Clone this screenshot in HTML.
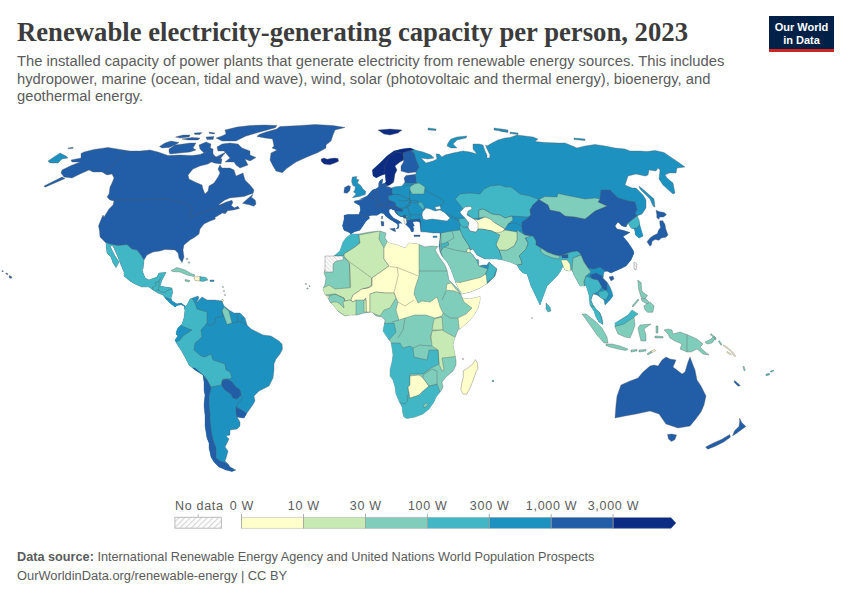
<!DOCTYPE html>
<html><head><meta charset="utf-8">
<style>
html,body{margin:0;padding:0;background:#fff;}
body{width:850px;height:600px;position:relative;overflow:hidden;font-family:"Liberation Sans",sans-serif;}
.t{position:absolute;white-space:nowrap;}
#title{left:17px;top:14px;font-family:"Liberation Serif",serif;font-weight:bold;font-size:26px;color:#333;letter-spacing:0px;}
.sub{left:17px;font-size:14.5px;color:#5b5b5b;}
#logo{position:absolute;left:769px;top:16px;width:65px;height:36px;background:#002147;}
#logo .bar{position:absolute;left:0;bottom:0;width:65px;height:3px;background:#ce261e;}
#logo .l{position:absolute;left:0;width:65px;text-align:center;color:#fff;font-size:11px;font-weight:bold;line-height:12px;}
.leg{font-size:13px;color:#5b5b5b;}
.foot{font-size:12.5px;color:#5b5b5b;left:17px;}
svg{position:absolute;left:0;top:0;}
</style></head><body>
<svg width="850" height="600" viewBox="0 0 850 600">
<defs>
<pattern id="hatch" width="3" height="3" patternUnits="userSpaceOnUse" patternTransform="rotate(-45)"><rect width="3" height="3" fill="#fafafa"/><rect width="1" height="3" fill="#e3e3e3"/></pattern>
<clipPath id="c_afr"><path d="M438,246.5 431,246 425,247 418,244 409,243 405,248 397,245 389,243 387,241 385,238 386,233 380,231 370,232 359,234 351,234 346,238 343,242 341,248 340,251 334,256 330,260 325,270 324,273 326,278 325,284 323,289 325,294 328,298 330,302 334,306 339,312 345,316 350,315 357,315 364,313 372,312 376,316 382,317 385,320 384,326 383,331 387,337 389,340 391,342 392,348 393,355 392,362 390,370 390,376 393,380 395,387 396,394 399,401 402,407 403,414 404,417 407,418.5 415,417 423,414 429,409 434,402 436,397 441,391 443,387 442,382 446,377 453,371 456,365 456,360 455,355 453,345 454,340 458,330 461,328 468,322 474,315 478,308 480,300 480,296.5 470,299 462,298 461,294 458,289 452,283 449,280 447,270 445,265 440,258 435,250Z"/></clipPath>
<clipPath id="c_borneo"><path d="M615,323 620,320 628,315 632,310 638,314 634,317 635,325 633,331 630,338 625,337 618,334 615,327Z"/></clipPath>
<clipPath id="c_eur"><path d="M346,231 344,230.3 342.5,225.8 344,219.8 344,215.3 347.8,214.5 359,214.5 360.5,210 359.8,205.5 354.5,202.5 354.5,201 360.5,200.3 365.8,198 359.4,199.8 367.2,195.9 372.4,190.1 376.2,188.8 378.8,186.8 378.8,182.9 380.1,180.4 382.7,179.1 382.1,184.2 385,183 386,182 385.3,173.9 381.4,175.2 376.2,177.8 373,175.8 372.4,170 380,163 387,156 394,151 402,149 410,148 414,149.5 415,150 423,152 431,155 434,158 428,159 421,158 426,163 433,161 437,159 436,154 439,154 442,157 445,155 453,153 463,151 470,152 477,154 473,149 473,144 479,144 483,145 485,151 487,155 487,158 489.5,158 490,155 487,149 485.5,145 487,146 492,143 498,140 505,138 510,137.5 517,135 525,136 533,137 538,139 535,141.5 545,142.5 558,143 565,143 570,145 577,148 585,146 595,144.5 605,146 615,148 625,149 630,151 640,151 647,151.5 655,150.5 664,152.5 672,158 678,162 685,167 677,168 676,173 669,173 665,175 667,178 673,183 675,193 673,194 663,185 659,179 660,170 658,168 656,171 649,170 648,175 645,176 636,174 628,176 625,185 632,188 636,188 643,195 646,200 646,208 642,214 637,216 639,220 640,226 643,236 639,238 635.5,235 634.5,229 631,228 628,223 626,227 622,226 618,222 615,226 617,229 622,230 630,232.5 623,236.5 628,242.5 633,250 634,253 631,260 626,266 620,269 613,272 611,273 607,271 604,272 603,278 607,282 610,287 612,292 613,296 610,300 605,305 604,300 600,297 597,295 593,294 591,300 593,305 596,309 600,313 602,318 603,324.5 599,322 596,317 594,311 590,305 589,295 586,285 585,286 580,286 574,275 572,270 571,270 569,271 565,270 563,266 560,272 557,276 551,282 547,286 540,305 533,290 531,286 529,280 527,274 523,273 520,270 517,265 510,262 503,260 497,259 490,259 485,259 477,255 473,249 470,250 470,252 473,255 477,261 479,266 483,265 487,265 489,262 497,269 495,276 488,283 483,286 480,288 470,292 462,294 459,289 456,283 453,275 450,267 447,262 442,256 440,252 439,246 440,238 440,233 433,233 426,232 420.9,231.8 420.3,225.9 419.7,221.8 416.2,221.2 412.6,221.8 413.2,223.5 414.4,225.9 412.6,226.5 413.8,228.8 413.2,231.8 411.5,231.8 409.7,228.2 407.4,225.9 406.2,224.7 405.6,223.5 405.6,221.2 404.4,218.2 403.2,217.1 400.3,216.5 397.4,214.7 395,211.8 394.4,210 392.6,210 391.5,208.8 389.1,209.4 389.1,212.4 390.9,215.3 393.8,218.2 397.4,220 400.3,221.8 402,223.5 400.9,222.9 398.5,223.5 399.1,225.9 398.5,228.2 396.2,228.8 397.4,227.6 398,225.9 397.4,224.1 395,222.4 392,220.6 389.1,218.8 385.6,215.9 383.8,213.5 380.8,213 377,215.3 371.8,215.3 368.8,216 369.5,218.3 365.8,221.3 363.5,225 359.8,230.3 354.5,231.8 350.8,234 349.3,232.5Z"/></clipPath>
<clipPath id="c_na"><path d="M81,153.4 84,152 94,149.4 108,147.4 120,149.4 130,151 140,151 150,150 158,152 168,155.5 180,155 192,155.5 200,154.5 206,152 209,147.5 213,149 213,154 216,157 222,154 226,152 220,159 213,161 208,164 200,166 193,169 188,175 189,179 195,182 202,185 203,189 205,194 208,191 209,186 214,183 218,177 220,173 218,169 220,165 222,168 230,168 234,170 236,176 243,173 245,180 250,185 254,190 253,193.5 250,194.3 244,196.5 236.5,197.3 229.8,198 224.5,200.3 218.5,204.8 220,204.8 226.8,201.8 232,200.3 232.8,202.5 231.3,205.5 234.3,207.8 238,206.3 239.5,208.5 233.5,210 227.5,210.8 225.3,213.8 222.3,213 220,214.5 214.8,217.5 215.5,219 209.5,221.3 204,224 200,229 199,234 195,237 190,240 184,245 183,250 184,257 182,262.5 179,258 178,253 175,250 165,249.5 160,251 153,252 147,255 144,260 143,269 142,270 145,278 149,280 157,277 159,273 166,272.5 162,280 160,286 165,287 172,288 172.5,293 171,298 172,301 177,304 181,303 185,306 187,306 185,309 184,306 181,304.5 177,305.5 175,307 170,303 166,299 163,295 158,293 153,290 149,287 142,287 135,284 130,281 124,276 124,272 121,265 118,257 113,246 110,246 115,256 119,262 116,267.5 113,263 111,257 107,253 106,243 104,241 100,237 99.5,231 98.5,226 100,222 103,215 104,217 109,209 113,205 114,201 110,200 107,197 109,194 110,187 112,183 114,178 112,174 107,175 102,172 93,172 89,170 80,174 72,178 64,177 61,173 62,170 70,166 80,162 72,162 71,160 81,158Z"/></clipPath>
<clipPath id="c_ng"><path d="M664,330 668,329 672,330 673,334 680,332 688,335 697,339 703,344 700,347 704,351 709,355 703,354 697,349 691,352 687,352 680,349 682,344 675,341 670,338 668,334Z"/></clipPath>
<clipPath id="c_sa"><path d="M184,308 187,305 190,299 198,296 199,298 196,303 202,297 207,300 215,300 222,301 224,306 229,310 234,313 240,313 245,318 247,325 251,329 259,333 263,335 271,336 279,341 282,344 282.5,349 280,354 276,359 274,364 274,370 273,378 269,386 259,391 254,396 255,401 252,406 247,413 244,418 237,417 240,422 240,426 237,429 230,430 230,435 226,436 229,439 227,443 225,447 228,451 227,455 225,461 228,464 230,467 236,470 232,471.5 226,470 219,467 214,462 211,457 210,452 209,448 209,443 207,438 206,432 205,426 205,415 204,405 205,395 204,390 204,382 203,375 195,370 189,365 185,357 181,350 177,344 175,340 178,336 176,334 177,330 178,328 182,324 184,318 185,310Z"/></clipPath>
</defs>
<g stroke="#555" stroke-opacity="0.7" stroke-width="0.5" stroke-linejoin="round">
<path fill="#225ea8" d="M81,153.4 84,152 94,149.4 108,147.4 120,149.4 130,151 140,151 150,150 158,152 168,155.5 180,155 192,155.5 200,154.5 206,152 209,147.5 213,149 213,154 216,157 222,154 226,152 220,159 213,161 208,164 200,166 193,169 188,175 189,179 195,182 202,185 203,189 205,194 208,191 209,186 214,183 218,177 220,173 218,169 220,165 222,168 230,168 234,170 236,176 243,173 245,180 250,185 254,190 253,193.5 250,194.3 244,196.5 236.5,197.3 229.8,198 224.5,200.3 218.5,204.8 220,204.8 226.8,201.8 232,200.3 232.8,202.5 231.3,205.5 234.3,207.8 238,206.3 239.5,208.5 233.5,210 227.5,210.8 225.3,213.8 222.3,213 220,214.5 214.8,217.5 215.5,219 209.5,221.3 204,224 200,229 199,234 195,237 190,240 184,245 183,250 184,257 182,262.5 179,258 178,253 175,250 165,249.5 160,251 153,252 147,255 144,260 143,269 142,270 145,278 149,280 157,277 159,273 166,272.5 162,280 160,286 165,287 172,288 172.5,293 171,298 172,301 177,304 181,303 185,306 187,306 185,309 184,306 181,304.5 177,305.5 175,307 170,303 166,299 163,295 158,293 153,290 149,287 142,287 135,284 130,281 124,276 124,272 121,265 118,257 113,246 110,246 115,256 119,262 116,267.5 113,263 111,257 107,253 106,243 104,241 100,237 99.5,231 98.5,226 100,222 103,215 104,217 109,209 113,205 114,201 110,200 107,197 109,194 110,187 112,183 114,178 112,174 107,175 102,172 93,172 89,170 80,174 72,178 64,177 61,173 62,170 70,166 80,162 72,162 71,160 81,158Z"/>
<path fill="#225ea8" d="M62,177 44,186 45,187.2 65,178.5Z"/>
<path fill="#225ea8" d="M68,148 73,147.3 73.2,148.3 68.3,148.8Z"/>
<path fill="#225ea8" d="M169,149 175,145 183,144 190,143 196,143 193,148 196,150 190,152 180,153 170,154 169,152Z"/>
<path fill="#225ea8" d="M159.5,146.5 165,143 171,141 179,142.5 175,145 169,147.5 162,148Z"/>
<path fill="#225ea8" d="M225,130 237,127 250,125.5 265,125 277,125.5 275.3,127.7 265.4,130.5 255.5,133.3 245.6,136.2 240,139 236,141 222,141 216,138 222,136 226,134Z"/>
<path fill="#225ea8" d="M217,147 222,144 230,143 238,144 242,148 250,151 250,155 256,157.5 250,161 245,159 248,165 240,168 236,165 234,162 225,162 230,158 224,151 218,151Z"/>
<path fill="#225ea8" d="M199,145 206,142 211,144 210,150 204,153 200,149Z"/>
<path fill="#225ea8" d="M175.5,137 183,135 190,135 189,137 180,138Z"/>
<path fill="#225ea8" d="M182,139 192,137.5 200,138 198,140 188,140Z"/>
<path fill="#225ea8" d="M194,133 202,132.5 200,134.5 195,134.5Z"/>
<path fill="#225ea8" d="M206,137 214,136.5 213,139.5 207,139.5Z"/>
<path fill="#225ea8" d="M209,132 215,133 214,134 209.5,133.5Z"/>
<path fill="#225ea8" d="M208,160 216,157 222,159 221,164 214,163Z"/>
<path fill="#225ea8" d="M259,134.5 257,136.5 265,138 272.5,139 274,146 272,148 277,150 271,153 270,160 273,166 276,171 282.4,172.8 286.6,168.6 296,162 306.4,157.3 318,152.5 326,148 326,145 331,141 333,135 335,130 345,127.5 333,125.5 315,124.5 300,125.5 280,126.5 276.7,129 266,132Z"/>
<path fill="#0c2c84" d="M321,159.2 323.8,158.1 327.4,159.2 330.2,158.5 334.8,158.1 338,158.5 338.6,161.3 334.8,163 329.8,164.8 324.2,164.1 321.4,161.6Z"/>
<path fill="#225ea8" d="M242.5,203.3 248.5,198 253,194.3 251.5,197.3 255.3,200.3 256,204 253.8,206.3 249.3,204.8 245.5,204Z"/>
<path fill="#7fcdbb" d="M171,270.5 177,267.5 185,270 191,273.5 195,275 194,276.5 187,275 180,272 172.5,271.5Z"/>
<path fill="#7fcdbb" d="M185,279.5 190,280.5 189,282 185,281Z"/>
<path fill="#ffffcc" d="M194,277 200,276.5 200,281 195,280.5Z"/>
<path fill="#41b6c4" d="M200,276.5 206,277.5 208,280 203,281.5 200,281Z"/>
<path fill="#1d91c0" d="M210,280 214,280 214,281.5 210,281.5Z"/>
<path fill="#225ea8" d="M9.5,275.5 12,277 11,278.5 9,277.5Z"/>
<path fill="#225ea8" d="M6,273 8,273.8 7.5,274.8 5.8,274Z"/>
<path fill="#225ea8" d="M2,270.5 3.5,271 3,271.8 1.8,271.3Z"/>
<path fill="#1d91c0" d="M48,161 54,157 60,153 66,156 68,158 62,159 58,163 50,163Z"/>
<path fill="#1d91c0" d="M184,308 187,305 190,299 198,296 199,298 196,303 202,297 207,300 215,300 222,301 224,306 229,310 234,313 240,313 245,318 247,325 251,329 259,333 263,335 271,336 279,341 282,344 282.5,349 280,354 276,359 274,364 274,370 273,378 269,386 259,391 254,396 255,401 252,406 247,413 244,418 237,417 240,422 240,426 237,429 230,430 230,435 226,436 229,439 227,443 225,447 228,451 227,455 225,461 228,464 230,467 236,470 232,471.5 226,470 219,467 214,462 211,457 210,452 209,448 209,443 207,438 206,432 205,426 205,415 204,405 205,395 204,390 204,382 203,375 195,370 189,365 185,357 181,350 177,344 175,340 178,336 176,334 177,330 178,328 182,324 184,318 185,310Z"/>
<path fill="#1d91c0" d="M346,231 344,230.3 342.5,225.8 344,219.8 344,215.3 347.8,214.5 359,214.5 360.5,210 359.8,205.5 354.5,202.5 354.5,201 360.5,200.3 365.8,198 359.4,199.8 367.2,195.9 372.4,190.1 376.2,188.8 378.8,186.8 378.8,182.9 380.1,180.4 382.7,179.1 382.1,184.2 385,183 386,182 385.3,173.9 381.4,175.2 376.2,177.8 373,175.8 372.4,170 380,163 387,156 394,151 402,149 410,148 414,149.5 415,150 423,152 431,155 434,158 428,159 421,158 426,163 433,161 437,159 436,154 439,154 442,157 445,155 453,153 463,151 470,152 477,154 473,149 473,144 479,144 483,145 485,151 487,155 487,158 489.5,158 490,155 487,149 485.5,145 487,146 492,143 498,140 505,138 510,137.5 517,135 525,136 533,137 538,139 535,141.5 545,142.5 558,143 565,143 570,145 577,148 585,146 595,144.5 605,146 615,148 625,149 630,151 640,151 647,151.5 655,150.5 664,152.5 672,158 678,162 685,167 677,168 676,173 669,173 665,175 667,178 673,183 675,193 673,194 663,185 659,179 660,170 658,168 656,171 649,170 648,175 645,176 636,174 628,176 625,185 632,188 636,188 643,195 646,200 646,208 642,214 637,216 639,220 640,226 643,236 639,238 635.5,235 634.5,229 631,228 628,223 626,227 622,226 618,222 615,226 617,229 622,230 630,232.5 623,236.5 628,242.5 633,250 634,253 631,260 626,266 620,269 613,272 611,273 607,271 604,272 603,278 607,282 610,287 612,292 613,296 610,300 605,305 604,300 600,297 597,295 593,294 591,300 593,305 596,309 600,313 602,318 603,324.5 599,322 596,317 594,311 590,305 589,295 586,285 585,286 580,286 574,275 572,270 571,270 569,271 565,270 563,266 560,272 557,276 551,282 547,286 540,305 533,290 531,286 529,280 527,274 523,273 520,270 517,265 510,262 503,260 497,259 490,259 485,259 477,255 473,249 470,250 470,252 473,255 477,261 479,266 483,265 487,265 489,262 497,269 495,276 488,283 483,286 480,288 470,292 462,294 459,289 456,283 453,275 450,267 447,262 442,256 440,252 439,246 440,238 440,233 433,233 426,232 420.9,231.8 420.3,225.9 419.7,221.8 416.2,221.2 412.6,221.8 413.2,223.5 414.4,225.9 412.6,226.5 413.8,228.8 413.2,231.8 411.5,231.8 409.7,228.2 407.4,225.9 406.2,224.7 405.6,223.5 405.6,221.2 404.4,218.2 403.2,217.1 400.3,216.5 397.4,214.7 395,211.8 394.4,210 392.6,210 391.5,208.8 389.1,209.4 389.1,212.4 390.9,215.3 393.8,218.2 397.4,220 400.3,221.8 402,223.5 400.9,222.9 398.5,223.5 399.1,225.9 398.5,228.2 396.2,228.8 397.4,227.6 398,225.9 397.4,224.1 395,222.4 392,220.6 389.1,218.8 385.6,215.9 383.8,213.5 380.8,213 377,215.3 371.8,215.3 368.8,216 369.5,218.3 365.8,221.3 363.5,225 359.8,230.3 354.5,231.8 350.8,234 349.3,232.5Z"/>
<path fill="#1d91c0" d="M352.3,177.1 356.8,176.5 356.2,179.1 358.8,179.7 357.5,182.9 360.7,185.5 362.7,188.8 365.9,191.4 365.2,194.6 359.4,196.5 352.3,197.8 356.2,193.9 353.6,192 354.9,189.4 355.5,186.8 352.9,185.5 351.6,181.6Z"/>
<path fill="#225ea8" d="M343.9,192.7 344.5,187.5 348.4,185.5 350.5,186.5 349.7,190.7 347.1,193.3Z"/>
<path fill="#225ea8" d="M389.7,228.8 395,228.2 395.6,231.8 392.6,230.6Z"/>
<path fill="#225ea8" d="M380.9,221.2 383.8,221.8 383.8,225.9 381.5,225.9Z"/>
<path fill="#225ea8" d="M381.5,216.5 382.6,215.9 382.6,218.8 381.5,218.8Z"/>
<path fill="#225ea8" d="M414,235 420,235 420,236.5 414,236.5Z"/>
<path fill="#1d91c0" d="M433,236 437,236 437,237.5 433,237.5Z"/>
<path fill="#1d91c0" d="M448,143 451,139 457,137 467,136 466,138 457,140 453,144 457,148 451,148 447,146Z"/>
<path fill="#0c2c84" d="M378,130 390,129 402,130 398,133 390,135 384,134Z"/>
<path fill="#1d91c0" d="M500,129 508,131 508,132.5 500,131Z"/>
<path fill="#1d91c0" d="M510,132 518,133 518,134.5 510,133.5Z"/>
<path fill="#1d91c0" d="M574,138 585,139 585,140.5 574,139.5Z"/>
<path fill="#1d91c0" d="M428,128 436,129 436,130.5 428,130Z"/>
<path fill="#1d91c0" d="M494,128 508,130 507,132 494,130Z"/>
<path fill="#1d91c0" d="M639,186 645,191 654,199 655,207 653,206 650,199 640,189Z"/>
<path fill="#225ea8" d="M656,210.3 659.8,211.8 664.3,212.5 666.5,214.8 663.5,217 659.8,217 659,219.3 656.8,217.8 656.8,214.8Z"/>
<path fill="#225ea8" d="M659.8,220.8 662.8,220.8 665,224.5 665.8,229 668,235 665.8,237.3 661.3,238 659,240.3 655.3,239.5 652.3,241 651.5,244.8 650,246.3 647,241.8 650,238 653,235.8 657.5,233.5 658.3,230.5 660.5,227.5 659.8,223.8Z"/>
<path fill="#225ea8" d="M609,277 613,276 614,279 611,281Z"/>
<path fill="#41b6c4" d="M546,303 550,307 551,311 548,312 546,309Z"/>
<path fill="#7fcdbb" d="M637.8,280 641.2,282.6 641.5,290 643,292.5 647.6,295.5 645,299 641,297 638.6,289Z"/>
<path fill="#7fcdbb" d="M641,298 646,299 649,302 647,304 642,301Z"/>
<path fill="#7fcdbb" d="M643.8,305.9 650.2,302 654.1,305.9 652.8,312.3 647.6,312.3 645,309.8Z"/>
<path fill="#7fcdbb" d="M632,306 638,299 639,300 633,307Z"/>
<path fill="#7fcdbb" d="M582,314 586,314 595,321 602,328 607,337 608,343 604,343 597,335 590,325 585,318Z"/>
<path fill="#7fcdbb" d="M606,344 612,344 620,346 628,349 626,350.5 618,349 610,347 606,345.5Z"/>
<path fill="#7fcdbb" d="M631,350 637,349.5 637,351 631,352Z"/>
<path fill="#7fcdbb" d="M639,350 646,349.5 646,351 639,352Z"/>
<path fill="#7fcdbb" d="M647,354 651,351 652,352.5 648,355Z"/>
<path fill="#ffffcc" d="M651,351 655,349.5 656,350.5 652,352.5Z"/>
<path fill="#7fcdbb" d="M615,323 620,320 628,315 632,310 638,314 634,317 635,325 633,331 630,338 625,337 618,334 615,327Z"/>
<path fill="#7fcdbb" d="M640,325 651,324 644,329 646,335 646,341 641,341 639,333 638,328Z"/>
<path fill="#7fcdbb" d="M655,336 663,336.5 663,338 655,338Z"/>
<path fill="#7fcdbb" d="M656,326 658,326 658,333 656,333Z"/>
<path fill="#7fcdbb" d="M664,330 668,329 672,330 673,334 680,332 688,335 697,339 703,344 700,347 704,351 709,355 703,354 697,349 691,352 687,352 680,349 682,344 675,341 670,338 668,334Z"/>
<path fill="#7fcdbb" d="M705,342 711,339 714,336 716,338 712,343 707,344Z"/>
<path fill="#225ea8" d="M615,418 616,405 617,396 621,385 630,381 638,378 643,372 650,366 654,365 658,366 662,360 666,357 670,359 676,360 673,367 677,370 682,374 685,372 688,362 690,357 693,365 695,370 697,380 701,386 706,396 704,405 701,412 695,420 690,426 678,428 666,424 659,414 650,411 636,414 625,416Z"/>
<path fill="#225ea8" d="M667.5,434.5 672,434 676.5,435 675,439.5 671.5,441.5 668.5,439Z"/>
<path fill="#225ea8" d="M739.6,418.1 741.7,422.4 745.9,426.6 741.7,429.4 736,433.7 732.5,435.8 734.6,430.8 738.9,426.6 739.6,422.4Z"/>
<path fill="#225ea8" d="M734.6,380.6 740.3,385.6 738.2,386.3 733.9,382Z"/>
<path fill="#225ea8" d="M729.7,434.4 730.4,437.2 723.3,442.2 714.8,446.4 707.7,449.2 705.6,447.1 713.4,442.9 721.9,439.3Z"/>
<path fill="#ffffcc" d="M475.4,359.6 477.5,363.3 477.9,368.3 475.8,372.5 473.3,380 470,388.3 466.7,394.2 463.3,394.2 460.8,390 461.7,383.3 463.3,377.5 463.3,370.8 467.5,368.3 472.5,364.2Z"/>
<path fill="#41b6c4" d="M476.5,259.5 478.5,259.5 479,263.5 477,264Z"/>
<path fill="#7fcdbb" d="M438,246.5 431,246 425,247 418,244 409,243 405,248 397,245 389,243 387,241 385,238 386,233 380,231 370,232 359,234 351,234 346,238 343,242 341,248 340,251 334,256 330,260 325,270 324,273 326,278 325,284 323,289 325,294 328,298 330,302 334,306 339,312 345,316 350,315 357,315 364,313 372,312 376,316 382,317 385,320 384,326 383,331 387,337 389,340 391,342 392,348 393,355 392,362 390,370 390,376 393,380 395,387 396,394 399,401 402,407 403,414 404,417 407,418.5 415,417 423,414 429,409 434,402 436,397 441,391 443,387 442,382 446,377 453,371 456,365 456,360 455,355 453,345 454,340 458,330 461,328 468,322 474,315 478,308 480,300 480,296.5 470,299 462,298 461,294 458,289 452,283 449,280 447,270 445,265 440,258 435,250Z"/>
<path fill="#7fcdbb" d="M718.27,341.376 720.97,345.176 722.03,344.424 719.33,340.624Z"/>
<path fill="#7fcdbb" d="M710.236,334.412 713.562,337.333 715.462,339.833 716.338,339.167 714.438,336.667 710.964,333.588Z"/>
<path fill="#ffffcc" d="M723.21,345.707 727.671,348.876 731.597,352.296 734.897,356.796 735.703,356.204 732.403,351.704 728.329,348.124 723.79,344.893Z"/>
<path fill="#ffffcc" d="M726.735,352.424 730.735,354.924 731.265,354.076 727.265,351.576Z"/>
<path fill="#7fcdbb" d="M742.924,366.669 744.124,370.769 745.276,370.431 744.076,366.331Z"/>
<path fill="#41b6c4" d="M766.205,375.773 769.605,374.873 769.195,373.327 765.795,374.227Z"/>
<path fill="#41b6c4" d="M770.81,372.308 773.71,371.108 773.29,370.092 770.39,371.292Z"/>
<path fill="#7fcdbb" d="M186.2,259 186.6,258.2 187.4,258.2 187.8,259 187.4,259.8 186.6,259.8Z"/>
<path fill="#7fcdbb" d="M188.3,262.5 188.65,261.8 189.35,261.8 189.7,262.5 189.35,263.2 188.65,263.2Z"/>
<path fill="#7fcdbb" d="M222.5,287 222.75,286.4 223.25,286.4 223.5,287 223.25,287.6 222.75,287.6Z"/>
<path fill="#7fcdbb" d="M223.5,291 223.75,290.4 224.25,290.4 224.5,291 224.25,291.6 223.75,291.6Z"/>
<path fill="#7fcdbb" d="M224.5,295 224.75,294.4 225.25,294.4 225.5,295 225.25,295.6 224.75,295.6Z"/>
<path fill="#ffffcc" d="M221.3,300.5 221.9,299.5 223.1,299.5 223.7,300.5 223.1,301.5 221.9,301.5Z"/>
<path fill="#7fcdbb" d="M305.3,284 305.65,283.4 306.35,283.4 306.7,284 306.35,284.6 305.65,284.6Z"/>
<path fill="#7fcdbb" d="M308.9,286 309.2,285.4 309.8,285.4 310.1,286 309.8,286.6 309.2,286.6Z"/>
<path fill="#7fcdbb" d="M306.7,288.5 307.1,287.9 307.9,287.9 308.3,288.5 307.9,289.1 307.1,289.1Z"/>
<path fill="#c7e9b4" d="M462.3,359 462.65,358.4 463.35,358.4 463.7,359 463.35,359.6 462.65,359.6Z"/>
<path fill="#41b6c4" d="M492.1,381 492.55,380.1 493.45,380.1 493.9,381 493.45,381.9 492.55,381.9Z"/>
<path fill="#7fcdbb" d="M531.6,318 531.8,317.4 532.2,317.4 532.4,318 532.2,318.6 531.8,318.6Z"/>
<g clip-path="url(#c_afr)">
<path fill="#41b6c4" d="M335,256 343,256 344,254 355,247 360,243 359,235 350,230 330,250Z"/>
<path fill="#c7e9b4" d="M359,235 380,231 379,239 384,248 384,259 389,266 372,278 372,285 368,288 362,289 353,295 351,300 345,301 344,298 335,294 325,295 318,295 318,285 323,288 329,285 335,289 350,287.7 349.5,263.3 344,256 344,254 355,247 360,243Z"/>
<path fill="#ffffcc" d="M384,248 388,240 419,243 419,276 415,288 414,294 418,303 422,301 430,302 437,297 439,303 440,307 443,313 442,316 435,318 426,315 415,315 405,318 399,320 396,310 398,302 396,298 394,293 385,293 376,292 370,294 370,312 366,312 366,298 364,300 356,300 353,302 351,300 353,295 362,289 368,288 372,285 372,278 389,266 384,259Z"/>
<path fill="#ffffcc" d="M447,284 451,283 460,294 455,291 446,290Z"/>
<path fill="#ffffcc" d="M462,297 485,294 485,310 460,335 458,318 466,314 472,308 464,302Z"/>
<path fill="#ffffcc" d="M430.5,335 433.5,335.5 433,339 431,339.5Z"/>
<path fill="#c7e9b4" d="M434,319 442,317 443,330 432,330Z"/>
<path fill="#c7e9b4" d="M432,331 442,330 460,340 460,356 442,358 444,370 442,371 439,364 438,350 432,346 431,337Z"/>
<path fill="#41b6c4" d="M375,324 394,323 396,332 389,340 375,335Z"/>
<path fill="#41b6c4" d="M380,343 400,343 403,348 410,346 413,348 414,357 427,360 429,350 438,350 439,364 431,368 423,374 410,374 410,385 408,387 409,398 410,398 419,395 423,391 429,386 437,384 440,392 445,395 440,425 380,425Z"/>
<path fill="#ffffcc" d="M410,376 419,375 423,378 429,386 423,391 419,395 410,398 408,387 410,385Z"/>
<path fill="#7fcdbb" d="M423,375 432,369 437,371 437,384 429,386 423,378Z"/>
<path fill="#7fcdbb" d="M423,405.6 426.5,402.6 428.2,404.4 424.7,408Z"/>
<path fill="#c7e9b4" d="M370,294 376,292 385,293 394,293 396,298 390,308 384,310 380,316 370,312Z"/>
<path fill="#c7e9b4" d="M364,300 366,300 366.5,312 364,312Z"/>
<path fill="#ffffcc" d="M324,295 329,296 329,298 325,299Z"/>
<path fill="#c7e9b4" d="M333,302 337,302 340,304 344,308 343,302 345,301 350,300 353,302 356,300 356,315 345,316 335,309 328,304Z"/>
<path fill="none" d="M399.4,401.5 401.8,403.2 405.3,403.8 407.6,400.9 407,395"/>
<path fill="none" d="M419,271 447,271"/>
<path fill="none" d="M344.2,258 371.8,278.1 371.8,286.6 363.3,288.7"/>
<path fill="none" d="M349.5,263.3 350.6,287.7"/>
<path fill="none" d="M389.8,266.5 397.2,267.5 418.4,276"/>
<path fill="none" d="M397.2,267.5 398.3,275 395,288.7 394,293"/>
<path fill="none" d="M398,302 405,306 414,300"/>
<path fill="none" d="M446,291 442,300"/>
<path fill="none" d="M443,313 450,318 458,318"/>
<path fill="none" d="M405,318 403,330 398,338"/>
<path fill="none" d="M392,322 399,320"/>
<path fill="none" d="M329,296 335,294 344,298 345,301"/>
<path fill="none" d="M413,348 420,345 432,346"/>
</g>
<g clip-path="url(#c_borneo)">
<path fill="#41b6c4" d="M610,323 620,320 628,315 632,305 645,314 634,317 624,324 617,326 610,328Z"/>
</g>
<g clip-path="url(#c_eur)">
<path fill="#225ea8" d="M330,170 386,176 392,186 392,194 400,195 396,203 396,206 398.5,207.6 404.4,210.6 403,213 406,218 410,220 419.7,218.8 420.5,221 421,235 330,240Z"/>
<path fill="#1d91c0" d="M388,196 395,194 400,195 404,197 410,199 410,206 406.8,205.9 404.4,208.8 398.5,207.6 395.6,205.9 395.6,203.5 394,202 389,200Z"/>
<path fill="#1d91c0" d="M395.6,211.2 402.6,211.2 402,208.2 408,207.6 409.1,211.8 410.3,214.7 410.3,217.6 410.9,220 406.8,220.6 406.2,217.6 405.6,215.9 405,215.3 403.8,215.3 402.6,217.1 399.7,215.9 397.4,213.5Z"/>
<path fill="#225ea8" d="M402.6,216.5 405,215.3 405.6,217.6 403.8,218.2Z"/>
<path fill="#41b6c4" d="M405.6,215.9 408,215.9 408,217.6 406.2,217.6Z"/>
<path fill="#0c2c84" d="M365,175 372,165 385,152 400,146 415,146 416,149 410,151 403,153 404,160 400,165 397,172 395,178 392,184 388,186 385,183 384,178 378,180 370,180Z"/>
<path fill="#225ea8" d="M403,153 410,150.5 414,153 416,160 419,167 416,172 408,174 400,172 401,163 404,158Z"/>
<path fill="#225ea8" d="M398,174 415,174 416,178 416,183 405,183 398,183Z"/>
<path fill="#7fcdbb" d="M410,187 414,184 419,183 425,187 424,194 412,194 410,190Z"/>
<path fill="#41b6c4" d="M417.8,202.5 421.6,202.1 423.9,205.6 424.6,208.6 422.3,209.4 420,206.3 418.5,204.8Z"/>
<path fill="#41b6c4" d="M455,199 460,194 470,193 480,194 484,189 490,186 500,185 505,187 511,187 520,194 530,196 539,199.5 533,205 530,210 531,215 528,217 512,216 505,218 500,215 492,214 483,209 479,210 479,218 474,219 472,218 465,212 460,205Z"/>
<path fill="#7fcdbb" d="M479,210 483,209 492,214 500,215 505,218 512,216 513,220 508,224 505,229 495,223 485,217 479,218Z"/>
<path fill="#ffffcc" d="M474,219 478,220 485,217 490,219 495,223 505,229 500,235 492,231 482,229 478,229 476,224Z"/>
<path fill="#225ea8" d="M539,199.5 548,205 550,210 560,212 565,216 575,217 585,219 595,211 607,206 598,202 600,199 601,190 610,190 618,198 628,201 635,202 637,210 635,213 637,216 628,223 626,227 622,226 618,222 615,226 617,229 622,230 632,231 623,236.5 630,240 636,252 637,253 634,262 628,268 620,272 612,275 607,272 604,270 600,267 594,269 588,268 584,262 581,255 577,251 571,252 565,254 560,256 555,255 547,252 541,248 536,245 536,241 533,236 525,236 522,230 522,222 528,218 531,215 530,210 533,205Z"/>
<path fill="#7fcdbb" d="M539,199.5 545,196.5 557,197 558,193.5 565,195 575,197 585,199 595,198 600,199 598,202 607,206 595,211 585,219 575,217 565,216 560,212 550,210 548,205Z"/>
<path fill="#1d91c0" d="M631,229 637,228 641,223 646,230 646,240 638,241 633,235Z"/>
<path fill="#41b6c4" d="M628,223 637,216 642,218 641,223 637,228 631,229 626,226Z"/>
<path fill="#41b6c4" d="M525,236 533,236 536,241 536,245 541,248 547,252 555,255 560,256 565,254 571,252 577,251 580,253 581,255 573,258 574,265 572,272 565,285 545,315 525,290 510,268 517,265 522,264 521,260 519,256 526,249 528,243Z"/>
<path fill="#7fcdbb" d="M541,248 547,252 555,255 560,256 559,259 553,258 545,255 541,252Z"/>
<path fill="#225ea8" d="M562,255 568,254.5 568,258 562,258Z"/>
<path fill="#ffffcc" d="M561,260 567,260 570,264 571,272 569,274 565,272 563,266Z"/>
<path fill="#7fcdbb" d="M517,230 525,235 531,236 525,238 528,243 526,249 519,256 521,260 522,264 517,265 510,270 500,268 499,262 501,256 499,250 507,250 514,246 517,240Z"/>
<path fill="#c7e9b4" d="M495,233 501,232 505,230 517,232 517,240 514,246 507,250 499,250 496,245Z"/>
<path fill="#41b6c4" d="M460,221 463,227 468,227 470,231 476,232 478,229 482,229 492,231 500,235 496,245 499,250 501,256 503,262 495,265 485,259 477,255 473,249 470,250 469,246 463,237 460,231 460,227Z"/>
<path fill="#41b6c4" d="M458,219 465,218 469,223 468,227 463,227 460,224Z"/>
<path fill="#7fcdbb" d="M441,233 452,231 460,230 463,237 469,246 470,250 473,255 477,261 479,266 488,269 485,275 480,278 460,283 455,290 440,250 440,240Z"/>
<path fill="#41b6c4" d="M441,244 448,242 449,245 444,247 441,251Z"/>
<path fill="#ffffcc" d="M467,249 470,249 470,252.5 467,252.5Z"/>
<path fill="#41b6c4" d="M489,262 497,269 495,273 494,277 489,281 485,284 485,275 488,269Z"/>
<path fill="#ffffcc" d="M455,282 460,282.5 480,277.5 486,274 488,290 462,300 455,295Z"/>
<path fill="#7fcdbb" d="M573,258 581,255 584,262 588,268 591,272 586,276 584,282 585,286 588,295 585,300 574,280 572,270Z"/>
<path fill="#225ea8" d="M590,275 596,273 602,276 603,279 607,283 607,291 602,288 598,281 593,280Z"/>
<path fill="#41b6c4" d="M586,276 593,279 598,280 602,287 598,292 593,294 591,300 593,305 596,309 600,313 580,320 585,286 584,282Z"/>
<path fill="#41b6c4" d="M598,292 606,290 609,294 606,300 600,298Z"/>
<path fill="#41b6c4" d="M589,306 596,307 600,313 604,326 595,326Z"/>
<path fill="none" d="M452,231 454,238 447,242"/>
<path fill="none" d="M444,247 455,250 467,252"/>
<path fill="none" d="M440,233 441,236 441,244"/>
<path fill="none" d="M425,190 430,193 440,198 444,201 443,204 440,206"/>
<path fill="none" d="M409.6,190 409.6,198.5 410,203 417.4,202.4"/>
<path fill="none" d="M410.3,214.7 422,214.7"/>
<path fill="none" d="M404,186 414,184.5"/>
<path fill="none" d="M445,213 452,216 458,219"/>
<path fill="none" d="M450,217 455,219 460,221"/>
<path fill="none" d="M508,224 515,223 522,226"/>
<path fill="none" d="M384,173 385,165 389,157 396,152 402,153"/>
<path fill="none" d="M359,214.5 364,216.5 368.8,216"/>
<path fill="none" d="M345,216 349,219 348,225 347,231"/>
<path fill="none" d="M369,196 375,199 378,200 378,205 376,207 377.4,208.8 380.9,205.9 386.8,206.5 390.3,206.5 392.6,207.6 397.4,207"/>
<path fill="none" d="M378,205 383,204 388,203.5 389,200"/>
<path fill="none" d="M372,190 377,190 377,198"/>
<path fill="none" d="M378.8,186.5 383,186.5"/>
<path fill="none" d="M398.6,200.2 403.2,201 407.8,200.2 409.6,198.5"/>
<path fill="none" d="M409.3,201.8 407.8,205.6 406.3,207.1"/>
<path fill="none" d="M409.3,201 414.7,200.2 418.5,201.8"/>
</g>
<g clip-path="url(#c_na)">
<path fill="#41b6c4" d="M95,242 106,242.5 110,244 118,245.5 127,244.5 132,249 137,250 141,255 144,260 150,262 168,266 180,290 178,302 176,310 130,300 95,260Z"/>
<path fill="#1d91c0" d="M165,297 172,300 180,296 195,300 190,315 170,310 162,300Z"/>
<path fill="none" d="M128,151 105,172"/>
<path fill="none" d="M153,290 152.3,287.3 156.3,285.3 155,282.7 159,281.3 161,277.3"/>
<path fill="none" d="M159,281.3 159,286 158.3,290 161.7,292 164.3,292.7 168.3,290 172.3,288.7"/>
<path fill="none" d="M155.7,290.7 158.3,290"/>
<path fill="none" d="M114,200 170,199.5 180,202 188,204 192,210 189,218 196,215 208,210 217,208 222,205 224.5,207 224,210 226,213"/>
</g>
<g clip-path="url(#c_ng)">
<path fill="none" d="M687,334 687,353"/>
</g>
<g clip-path="url(#c_sa)">
<path fill="#41b6c4" d="M190,295 195,303 197,309 207,312 207,323 201,330 202,337 195,343 194,350 201,356 205,357 211,354 213,360 225,364 226,370 230,372 232,378 229,379 223,379 221,385 211,387 207,380 203,375 170,370 170,290Z"/>
<path fill="#1d91c0" d="M170,322 180,325 189,329 192,330 189,332 183,336 180,340 170,345Z"/>
<path fill="#225ea8" d="M180,368 195,368 203,375 207,380 211,388 209,396 209,405 210,415 210,420 211,430 213,440 216,448 216,458 220,461 228,464 240,476 180,480Z"/>
<path fill="#225ea8" d="M222,381 227,379 232,382 235,386 240,390 241,395 237,399 233,398 231,394 225,390 222,386Z"/>
<path fill="#225ea8" d="M236,407 243,411 247,414 252,418 244,421 237,417 236,412Z"/>
<path fill="#7fcdbb" d="M224,307 229,311 230,315 232,323 227,324.5 225,319 222,311Z"/>
<path fill="none" d="M207,323 210,326 215,323 215,318 223,316 222,311"/>
<path fill="none" d="M237,314 238,322"/>
<path fill="none" d="M243,317 241,322"/>
<path fill="none" d="M232,323 238,322 241,322 247,325"/>
<path fill="none" d="M241,395 243,397 237,405 236,407"/>
</g>
<path fill="#fff" d="M423,219 422,215 422.5,212 424.4,210 426,208 430,209 435,211 440,210 445,213 450,218 447,221 440,220 432,219 426,220Z"/>
<path fill="#fff" d="M435,207 440,206 441,209 436,209.5Z"/>
<path fill="#fff" d="M460,212 465,207 471,206.5 472,209 468,211 467,215 472,218 475,220 478,223 478,229 476,232 470,231 468,227 469,223 465,218 461,214Z"/>
<path fill="#fff" d="M386,186.5 389.8,185 393.7,182.3 395,174 397,170 395,166 400,162 404,160 403,163 401,166 401,171 408,173 416,172 416,174 414,174.5 406,175.5 404,178 405,182 402,186 395,186.8 391.1,188.1 388.5,186.8Z"/>
<path fill="url(#hatch)" d="M634,262 637,264 636,270 634,269Z"/>
<path fill="url(#hatch)" d="M403.8,218.2 406.2,218.2 406.8,222.4 405.6,224.7 404.4,223.5Z"/>
<path fill="url(#hatch)" d="M325,256 343,256 343,260 336,261 333,264 333,272 325,272Z"/>
</g></svg><svg width="850" height="600" style="position:absolute;left:0;top:0">
<defs><pattern id="hatch2" width="4" height="4" patternUnits="userSpaceOnUse" patternTransform="rotate(45)"><rect width="4" height="4" fill="#fff"/><rect width="1.2" height="4" fill="#d6d6d6"/></pattern></defs>
<rect x="174.9" y="517.3" width="46.5" height="10.9" fill="url(#hatch2)" stroke="#bbb" stroke-width="1"/>
<line x1="198.2" y1="514" x2="198.2" y2="517" stroke="#bbb" stroke-width="1"/>
<rect x="241.5" y="517.4" width="62" height="11" fill="#ffffcc"/>
<rect x="303.5" y="517.4" width="62" height="11" fill="#c7e9b4"/>
<rect x="365.5" y="517.4" width="61.9" height="11" fill="#7fcdbb"/>
<rect x="427.4" y="517.4" width="61.9" height="11" fill="#41b6c4"/>
<rect x="489.3" y="517.4" width="61.9" height="11" fill="#1d91c0"/>
<rect x="551.2" y="517.4" width="61.9" height="11" fill="#225ea8"/>
<path d="M613.1,517.4 H671 L676,522.9 L671,528.4 H613.1 Z" fill="#0c2c84"/>
<path d="M241.5,517.4 H671 M241.5,528.4 H671" stroke="#999" stroke-width="0.6" stroke-opacity="0.7" fill="none"/>
<line x1="241.5" y1="514" x2="241.5" y2="528.4" stroke="#999" stroke-width="0.8"/>
<text x="241.5" y="509.7" dx="0.35" text-anchor="middle" font-family="Liberation Sans" font-size="12.5" letter-spacing="0.7" fill="#5b5b5b">0 W</text>
<line x1="303.5" y1="514" x2="303.5" y2="528.4" stroke="#999" stroke-width="0.8"/>
<text x="303.5" y="509.7" dx="0.35" text-anchor="middle" font-family="Liberation Sans" font-size="12.5" letter-spacing="0.7" fill="#5b5b5b">10 W</text>
<line x1="365.5" y1="514" x2="365.5" y2="528.4" stroke="#999" stroke-width="0.8"/>
<text x="365.5" y="509.7" dx="0.35" text-anchor="middle" font-family="Liberation Sans" font-size="12.5" letter-spacing="0.7" fill="#5b5b5b">30 W</text>
<line x1="427.4" y1="514" x2="427.4" y2="528.4" stroke="#999" stroke-width="0.8"/>
<text x="427.4" y="509.7" dx="0.35" text-anchor="middle" font-family="Liberation Sans" font-size="12.5" letter-spacing="0.7" fill="#5b5b5b">100 W</text>
<line x1="489.3" y1="514" x2="489.3" y2="528.4" stroke="#999" stroke-width="0.8"/>
<text x="489.3" y="509.7" dx="0.35" text-anchor="middle" font-family="Liberation Sans" font-size="12.5" letter-spacing="0.7" fill="#5b5b5b">300 W</text>
<line x1="551.2" y1="514" x2="551.2" y2="528.4" stroke="#999" stroke-width="0.8"/>
<text x="551.2" y="509.7" dx="0.35" text-anchor="middle" font-family="Liberation Sans" font-size="12.5" letter-spacing="0.7" fill="#5b5b5b">1,000 W</text>
<line x1="613.1" y1="514" x2="613.1" y2="528.4" stroke="#999" stroke-width="0.8"/>
<text x="613.1" y="509.7" dx="0.35" text-anchor="middle" font-family="Liberation Sans" font-size="12.5" letter-spacing="0.7" fill="#5b5b5b">3,000 W</text>
<text x="175" y="509.7" font-family="Liberation Sans" font-size="12.5" letter-spacing="0.7" fill="#5b5b5b">No data</text>
</svg><svg width="850" height="600" style="position:absolute;left:0;top:0">
<text x="17" y="40.5" font-family="Liberation Serif" font-weight="bold" font-size="26.7" fill="#3c3c3c">Renewable electricity-generating capacity per person, 2023</text>
<g font-family="Liberation Sans" font-size="14.75" fill="#5b5b5b">
<text x="17" y="65.8">The installed capacity of power plants that generate electricity from renewable energy sources. This includes</text>
<text x="17" y="83.5">hydropower, marine (ocean, tidal and wave), wind, solar (photovoltaic and thermal energy), bioenergy, and</text>
<text x="17" y="101.3">geothermal energy.</text>
</g>
<g font-family="Liberation Sans" fill="#5b5b5b">
<text x="17" y="560.5" font-size="12.7"><tspan font-weight="bold">Data source:</tspan> International Renewable Energy Agency and United Nations World Population Prospects</text>
<text x="17" y="580.3" font-size="12.85">OurWorldinData.org/renewable-energy | CC BY</text>
</g>
<rect x="769" y="16" width="65" height="36" fill="#002147"/>
<rect x="769" y="49" width="65" height="3" fill="#ce261e"/>
<g font-family="Liberation Sans" font-weight="bold" font-size="11" fill="#fff" text-anchor="middle">
<text x="801.5" y="31">Our World</text>
<text x="801.5" y="43.5">in Data</text>
</g>
</svg>
</body></html>
